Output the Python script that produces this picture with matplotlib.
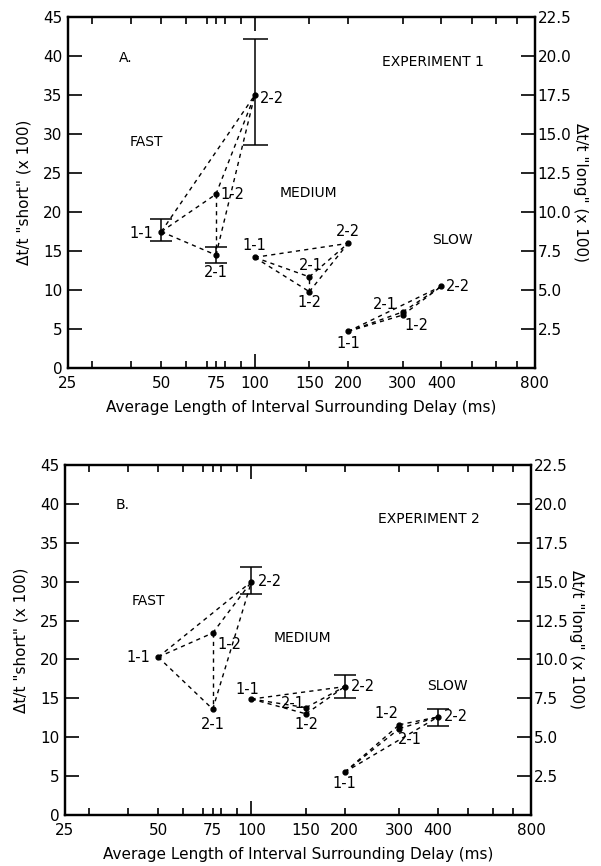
import matplotlib
matplotlib.use("Agg")
import matplotlib.pyplot as plt
import matplotlib.ticker as mticker

# conditions and x positions (ms) for each rate group
conds  = ["1-1", "1-2", "2-1", "2-2"]
fast_x = [50, 75, 75, 100]
med_x  = [100, 150, 150, 200]
slow_x = [200, 300, 300, 400]

# Δt/t "short" (x 100), experiment 1
exp1_fast = [17.5, 22.3, 14.5, 35.0]
exp1_med  = [14.2, 9.8, 11.7, 16.0]
exp1_slow = [4.7, 6.8, 7.2, 10.5]
# experiment 2
exp2_fast = [20.3, 23.4, 13.6, 30.0]
exp2_med  = [14.9, 13.0, 13.8, 16.5]
exp2_slow = [5.5, 11.6, 11.1, 12.6]

# error bars: (group, condition, low, high)
exp1_bars = [("fast", "1-1", 16.3, 19.1), ("fast", "2-1", 13.5, 15.5),
             ("fast", "2-2", 28.6, 42.2)]
exp2_bars = [("fast", "2-2", 28.4, 31.9), ("med", "2-2", 15.0, 18.0),
             ("slow", "2-2", 11.4, 13.6)]

xtick_vals  = [25, 50, 75, 100, 150, 200, 300, 400, 800]
xminor_vals = [30, 40, 60, 70, 80, 90, 500, 600, 700]
left_ticks  = [0, 5, 10, 15, 20, 25, 30, 35, 40, 45]
right_ticks = [2.5, 5.0, 7.5, 10.0, 12.5, 15.0, 17.5, 20.0, 22.5]

# label placement (offset px, ha, va) per panel
LAB_A = {
    "fast": {"1-1": (-8, -2, "right", "center"), "1-2": (4, 0, "left", "center"),
             "2-1": (0, -10, "center", "top"), "2-2": (5, -3, "left", "center")},
    "med":  {"1-1": (0, 4, "center", "bottom"), "2-2": (0, 4, "center", "bottom"),
             "2-1": (2, 4, "center", "bottom"), "1-2": (0, -3, "center", "top")},
    "slow": {"1-1": (0, -5, "center", "top"), "2-2": (4, 0, "left", "center"),
             "2-1": (-6, 7, "right", "center"), "1-2": (2, -10, "left", "center")},
}
LAB_B = {
    "fast": {"1-1": (-8, 0, "right", "center"), "1-2": (5, -12, "left", "center"),
             "2-1": (0, -8, "center", "top"), "2-2": (6, 0, "left", "center")},
    "med":  {"1-1": (-4, 2, "center", "bottom"), "2-2": (6, 0, "left", "center"),
             "2-1": (-1, 4, "right", "center"), "1-2": (0, -3, "center", "top")},
    "slow": {"1-1": (0, -4, "center", "top"), "1-2": (-1, 11, "right", "center"),
             "2-1": (-1, -11, "left", "center"), "2-2": (6, 0, "left", "center")},
}

FS = 11
plt.rcParams["font.family"] = "DejaVu Sans"


def draw_group(ax, xs, ys):
    # dashed lines between every pair of conditions
    for i in range(4):
        for j in range(i + 1, 4):
            ax.plot([xs[i], xs[j]], [ys[i], ys[j]], color="black",
                    linestyle=(0, (3, 3)), linewidth=1.0)
    ax.plot(xs, ys, "o", color="black", markersize=3.5, zorder=5)


def draw_panel(ax, groups, bars, labels, tag, title):
    for name, (xs, ys) in groups.items():
        draw_group(ax, xs, ys)
        for c, x, y in zip(conds, xs, ys):
            dx, dy, ha, va = labels[name][c]
            ax.annotate(c, (x, y), xytext=(dx, dy), textcoords="offset pixels",
                        ha=ha, va=va, fontsize=FS - 0.5)
    for name, c, lo, hi in bars:
        xs, ys = groups[name]
        k = conds.index(c)
        ax.errorbar([xs[k]], [ys[k]], yerr=[[ys[k] - lo], [hi - ys[k]]],
                    fmt="none", ecolor="black", elinewidth=1.1,
                    capsize=9 if hi - lo > 5 else 8, capthick=1.1)

    ax.set_xscale("log")
    ax.set_xlim(25, 800)
    ax.set_ylim(0, 45)
    ax.xaxis.set_major_locator(mticker.FixedLocator(xtick_vals))
    ax.xaxis.set_major_formatter(mticker.FixedFormatter([str(v) for v in xtick_vals]))
    ax.xaxis.set_minor_locator(mticker.FixedLocator(xminor_vals))
    ax.xaxis.set_minor_formatter(mticker.NullFormatter())
    ax.set_yticks(left_ticks)
    ax.tick_params(axis="x", which="both", direction="in", top=True,
                   length=5, width=1.2, labelsize=FS, pad=6)
    ax.tick_params(axis="y", direction="in", length=10, width=1.2,
                   labelsize=FS, pad=4)
    # longer tick at 100
    t100 = ax.xaxis.get_major_ticks()[3]
    t100.tick1line.set_markersize(10)
    t100.tick2line.set_markersize(10)
    for sp in ax.spines.values():
        sp.set_linewidth(1.6)

    ax.set_xlabel("Average Length of Interval Surrounding Delay (ms)",
                  fontsize=FS, labelpad=6)
    ax.set_ylabel('Δt/t "short" (x 100)', fontsize=FS, labelpad=8)

    ax2 = ax.twinx()
    ax2.set_ylim(0, 22.5)
    ax2.set_yticks(right_ticks)
    ax2.set_yticklabels([f"{v:.1f}" for v in right_ticks])
    ax2.tick_params(axis="y", direction="in", length=10, width=1.2,
                    labelsize=FS, pad=2)
    ax2.set_ylabel('Δt/t "long" (x 100)', fontsize=FS, rotation=-90,
                   labelpad=12)
    for sp in ax2.spines.values():
        sp.set_linewidth(1.6)

    ax.text(36.5, 39.8, tag, fontsize=FS - 1, ha="left", va="center")
    ax.text(375, 39.3 if tag == "A." else 38.0, title, fontsize=FS - 1,
            ha="center", va="center")


fig = plt.figure(figsize=(6.01, 8.66), dpi=100)
axA = fig.add_axes([0.113, 0.575, 0.777, 0.405])
axB = fig.add_axes([0.108, 0.059, 0.776, 0.404])

draw_panel(axA, {"fast": (fast_x, exp1_fast), "med": (med_x, exp1_med),
                 "slow": (slow_x, exp1_slow)},
           exp1_bars, LAB_A, "A.", "EXPERIMENT 1")
axA.text(39.5, 29.0, "FAST", fontsize=FS - 1, va="center")
axA.text(120, 22.4, "MEDIUM", fontsize=FS - 1, va="center")
axA.text(372, 16.4, "SLOW", fontsize=FS - 1, va="center")

draw_panel(axB, {"fast": (fast_x, exp2_fast), "med": (med_x, exp2_med),
                 "slow": (slow_x, exp2_slow)},
           exp2_bars, LAB_B, "B.", "EXPERIMENT 2")
axB.text(41, 27.5, "FAST", fontsize=FS - 1, va="center")
axB.text(118, 22.7, "MEDIUM", fontsize=FS - 1, va="center")
axB.text(370, 16.6, "SLOW", fontsize=FS - 1, va="center")

fig.savefig("out.png", dpi=100, facecolor="white")
